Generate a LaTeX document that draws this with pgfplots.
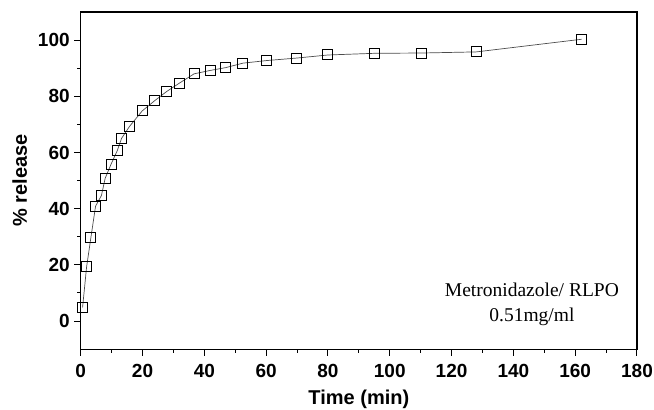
\documentclass[border=0pt]{standalone}
\usepackage{pgfplots}
\pgfplotsset{compat=1.18}
\usepackage{fontspec}
\setmainfont{Liberation Serif}
\setsansfont{Liberation Sans}
\begin{document}
\begin{tikzpicture}
\begin{axis}[
  scale only axis,
  width=556pt, height=337pt,
  xmin=0, xmax=180, ymin=-10, ymax=110,
  xtick={0,20,...,180}, ytick={0,20,...,100},
  minor x tick num=1, minor y tick num=1,
  axis line style={line width=1.1pt},
  tick style={line width=1pt, black},
  tick align=outside,
  major tick length=6.5pt, minor tick length=3.5pt,
  xtick pos=bottom, ytick pos=left,
  /pgf/number format/assume math mode=true,
  ticklabel style={font=\fontsize{19}{21}\selectfont\sffamily\bfseries},
  xticklabel style={yshift=-5pt},
  yticklabel style={xshift=-1pt},
  xlabel={Time (min)}, ylabel={\% release},
  label style={font=\fontsize{20}{22}\selectfont\sffamily\bfseries},
  xlabel style={at={(axis description cs:0.5,0)}, anchor=base, yshift=-55.5pt},
  ylabel style={at={(axis description cs:0,0.5)}, anchor=center, yshift=61pt},
  clip=false,
]
\addplot[color=black!70, line width=0.7pt, mark=square, mark size=5pt,
  mark options={fill=white, draw=black, line width=1pt, solid}]
coordinates {
(0.6,4.9) (1.9,19.3) (3.3,29.8) (4.8,40.9) (6.7,44.7) (7.9,50.8)
(9.8,55.8) (11.8,60.6) (13.2,65.0) (15.8,69.3) (19.9,74.8) (24.0,78.5)
(27.8,81.7) (31.8,84.6) (36.7,88.0) (41.9,89.2) (46.9,90.2) (52.5,91.8)
(60.0,92.7) (69.8,93.6) (80.0,94.7) (95.1,95.3) (110.2,95.4) (128.0,95.8)
(162.1,100.3)
};
\node[align=center, font=\fontsize{19.5}{25.4}\selectfont, anchor=base] at (axis cs:146,-0.2) {Metronidazole/ RLPO\\0.51mg/ml};
\end{axis}
\pgfresetboundingbox
\path (current axis.south west) ++(-80.7pt,-60pt) coordinate (bl);
\path (current axis.north east) ++(17pt,12pt) coordinate (tr);
\path[use as bounding box] (bl) rectangle (tr);
\end{tikzpicture}
\end{document}
